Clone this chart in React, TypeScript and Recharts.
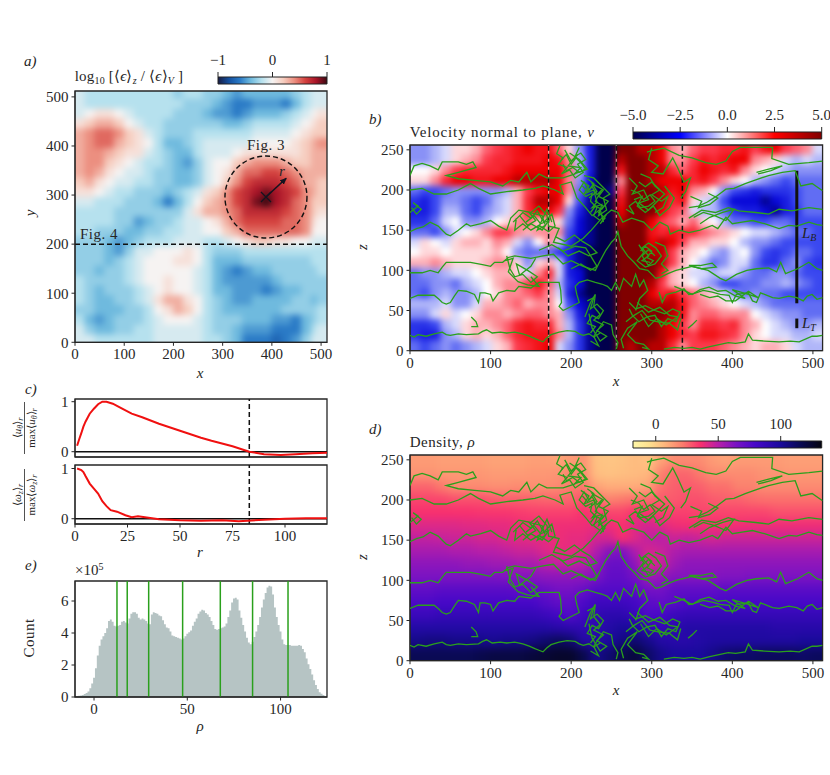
import React from 'react';
import {
  ComposedChart, ScatterChart, Scatter, Line, Area, XAxis, YAxis, ZAxis,
  ReferenceLine, ReferenceArea, ReferenceDot,
} from 'recharts';

const FONT = "'Liberation Serif', serif";
const INK = '#262626';
const GREEN = '#2aa01c';

// panel a) heat map, log10 ratio in tenths
const epsColumns = [10, 30, 50, 70, 90, 110, 130, 150, 170, 190, 210, 230, 250, 270, 290, 310, 330, 350, 370, 390, 410, 430, 450, 470, 490, 502];
const epsLevels = [502, 485, 465, 445, 425, 405, 385, 365, 345, 325, 305, 285, 265, 245, 225, 205, 185, 165, 145, 125, 105, 85, 65, 45, 25, 5];
const epsRows = [
  [-1, -2, -2, -2, -2, -2, -2, -2, -2, -2, -3, -2, -2, -3, -3, -4, -5, -4, -4, -4, -4, -4, -3, -2, -1, -1],
  [-1, -2, -2, -2, -2, -2, -2, -2, -2, -2, -2, -3, -3, -3, -4, -5, -6, -6, -5, -5, -5, -6, -4, -2, -1, -1],
  [-1, 0, 1, 1, 0, -1, -2, -2, -2, -2, -3, -3, -3, -4, -5, -5, -6, -5, -4, -4, -4, -3, -2, -1, 0, 1],
  [1, 2, 3, 3, 2, 0, -1, -2, -2, -3, -3, -3, -3, -3, -3, -4, -4, -3, -2, -2, -2, -2, -1, 0, 1, 2],
  [3, 4, 5, 5, 4, 2, 1, -1, -2, -3, -3, -3, -2, -2, -2, -2, -2, -2, -1, -1, -1, -1, 0, 1, 2, 2],
  [3, 4, 5, 5, 3, 2, 1, 0, -2, -4, -4, -3, -2, -1, -1, -1, -1, -1, 0, 0, 0, 0, 1, 2, 3, 4],
  [3, 4, 4, 3, 2, 1, 1, -1, -2, -3, -4, -4, -2, -1, -1, -1, 0, 1, 1, 1, 1, 1, 1, 2, 3, 3],
  [3, 4, 4, 2, 1, 0, -1, -2, -2, -3, -4, -5, -3, -1, 0, 0, 2, 3, 4, 4, 4, 3, 2, 2, 3, 3],
  [3, 4, 3, 1, 0, -1, -1, -2, -3, -3, -4, -4, -3, -1, 0, 1, 3, 5, 5, 6, 6, 5, 4, 3, 3, 3],
  [2, 3, 1, 0, -1, -1, -2, -2, -3, -3, -4, -4, -3, -1, 0, 2, 4, 6, 7, 7, 7, 6, 5, 3, 3, 2],
  [1, 1, 0, -1, -2, -2, -3, -3, -3, -4, -3, -2, -1, 1, 2, 4, 6, 7, 8, 9, 8, 7, 6, 4, 3, 2],
  [-1, -1, -2, -2, -2, -3, -3, -3, -4, -6, -4, -2, 0, 2, 3, 4, 6, 7, 9, 10, 8, 7, 5, 4, 2, 2],
  [-2, -2, -2, -2, -3, -3, -3, -3, -3, -3, -3, -1, 1, 3, 3, 4, 5, 7, 7, 7, 7, 6, 5, 4, 2, 1],
  [-2, -2, -2, -2, -3, -3, -5, -4, -3, -3, -2, -1, -1, 0, 1, 3, 5, 6, 6, 6, 6, 5, 5, 4, 1, 0],
  [-2, -2, -3, -3, -3, -4, -4, -3, -3, -2, -2, -1, -1, 0, 0, 2, 3, 5, 5, 5, 5, 5, 5, 4, 0, 0],
  [-3, -3, -3, -4, -5, -4, -3, -2, -2, -2, -1, -1, -1, -2, -2, -1, 0, 1, 2, 2, 1, 1, 0, 0, -1, -1],
  [-3, -3, -3, -4, -5, -3, -1, -1, 0, 0, 0, 1, 0, -2, -3, -3, -3, -2, -2, -2, -2, -2, -2, -2, -2, -2],
  [-3, -3, -3, -4, -3, -2, -1, 0, 0, 0, 1, 1, 0, -2, -4, -4, -4, -3, -3, -3, -3, -3, -3, -3, -2, -2],
  [-3, -3, -4, -3, -3, -2, -1, 0, 0, 0, 0, 0, -1, -2, -4, -5, -6, -5, -4, -4, -3, -3, -3, -3, -3, -2],
  [-2, -3, -3, -3, -3, -2, -1, 0, 0, 1, 0, 0, -1, -2, -4, -5, -5, -5, -5, -5, -4, -3, -3, -3, -3, -3],
  [-2, -3, -4, -3, -3, -3, -2, -1, 0, 1, 0, 0, -1, -2, -4, -4, -5, -5, -5, -6, -5, -4, -4, -3, -3, -3],
  [-2, -3, -4, -4, -3, -3, -2, -1, 1, 3, 3, 1, 0, -2, -3, -4, -5, -5, -4, -4, -4, -4, -3, -3, -4, -3],
  [-3, -3, -4, -4, -4, -3, -3, -2, 0, 1, 3, 2, 0, -2, -3, -4, -4, -4, -4, -4, -4, -3, -3, -3, -3, -2],
  [-2, -4, -5, -4, -3, -3, -3, -2, -1, 0, 0, 0, -1, -2, -3, -3, -3, -4, -4, -4, -5, -5, -6, -4, -3, -2],
  [-1, -3, -4, -4, -3, -3, -2, -2, -1, -1, -1, -1, -1, -2, -3, -3, -4, -5, -5, -5, -6, -6, -6, -4, -2, -1],
  [-1, -1, -2, -2, -2, -2, -2, -2, -1, -1, -1, -1, -1, -2, -2, -3, -4, -6, -6, -6, -7, -6, -5, -3, -1, -1],
];

// panel b) velocity in half units
const velColumns = [6, 19, 32, 45, 58, 70, 83, 96, 109, 122, 134, 147, 160, 173, 186, 198, 211, 224, 237, 250, 262, 275, 288, 301, 314, 326, 339, 352, 365, 378, 390, 403, 416, 429, 442, 454, 467, 480, 493, 506];
const velLevels = [250, 237, 224, 211, 198, 186, 173, 160, 147, 134, 122, 109, 96, 83, 70, 58, 45, 32, 19, 6];
const velRows = [
  [-3, -3, -2, -1, 1, 1, 2, 4, 5, 6, 7, 8, 7, 7, 4, 1, -3, -7, -10, -10, 10, 10, 9, 9, 8, 3, 2, 4, 5, 5, 6, 6, 7, 5, 7, 8, 5, 4, 3, -1],
  [-3, -3, -2, -1, 1, 2, 3, 5, 6, 6, 7, 7, 7, 8, 7, 3, -2, -7, -10, -10, 9, 10, 10, 9, 8, 3, 3, 5, 7, 6, 7, 8, 8, 3, 2, 1, -1, -2, -1, -2],
  [0, 0, 1, 3, 5, 6, 6, 6, 6, 7, 8, 8, 8, 8, 8, 4, -2, -7, -10, -10, 7, 10, 10, 9, 9, 6, 4, 6, 8, 7, 6, 7, 3, 1, 0, -1, -2, -3, -3, -3],
  [1, 1, 3, 6, 8, 8, 7, 7, 8, 8, 9, 9, 9, 9, 8, 3, -3, -8, -10, -10, 3, 10, 10, 9, 8, 8, 8, 6, 7, 5, 3, 1, 0, -2, -3, -4, -5, -4, -4, -4],
  [-4, -5, -5, -4, -3, -3, -3, -3, -3, -2, 2, 5, 7, 8, 8, 3, -4, -8, -10, -9, 5, 10, 10, 10, 9, 7, 8, 3, 2, 0, -3, -5, -6, -7, -6, -6, -6, -5, -4, -4],
  [-6, -7, -5, -3, -3, -4, -5, -4, -2, -1, 2, 6, 9, 9, 8, 1, -5, -9, -10, -10, 7, 10, 10, 10, 9, 6, 7, 1, -1, -2, -5, -8, -8, -8, -9, -8, -7, -5, -4, -4],
  [-7, -7, -5, -2, -2, -4, -5, -3, -2, -1, 2, 6, 8, 8, 5, -3, -7, -9, -10, -10, 8, 10, 10, 10, 8, 5, 4, -1, -2, -2, -4, -6, -7, -7, -8, -9, -7, -6, -4, -4],
  [-6, -6, -4, -1, 0, -3, -3, -2, 0, 1, 3, 4, 1, 2, 1, -4, -8, -9, -10, -10, 9, 10, 10, 8, 5, 4, 2, 4, 1, 0, -2, -4, -4, -5, -5, -4, -4, -5, -5, -5],
  [-4, -4, -5, -3, -1, 0, 1, 3, 5, 5, 3, 2, 3, 3, 3, -5, -8, -9, -10, -10, 10, 10, 10, 7, 6, 7, 6, 6, 4, 3, 2, 1, 0, -1, -1, -2, -3, -4, -4, -5],
  [-1, 1, 0, -1, 1, 2, 2, 1, 3, 2, -1, -3, 0, 3, -1, -6, -9, -9, -10, -10, 10, 10, 10, 8, 9, 8, 5, 2, 2, 1, 1, 0, -2, -3, -3, -4, -5, -5, -5, -5],
  [0, 1, 1, 0, 1, 1, 1, 1, 2, 0, -3, -4, -4, -4, -6, -7, -9, -10, -10, -10, 10, 10, 10, 9, 9, 5, 2, 1, 0, -2, -3, -1, 0, -3, -5, -6, -5, -4, -4, -5],
  [2, 2, 3, 2, 1, 1, 1, 2, 3, 3, 1, -3, 1, 2, -1, -7, -9, -10, -10, -10, 10, 10, 10, 10, 9, 5, 2, 0, -2, -4, -3, -1, -1, -4, -6, -6, -4, -3, -5, -6],
  [-4, -3, -3, -2, -1, -1, 0, 1, 2, 2, 1, -1, 3, 6, -1, -7, -8, -10, -10, -10, 10, 10, 10, 10, 7, 2, 1, -1, -1, -2, -1, -1, -3, -4, -4, -3, -3, -4, -5, -5],
  [-4, -4, -3, -3, -4, -2, -1, 0, 2, 3, 3, 5, 7, 4, -2, -6, -8, -10, -10, -10, 10, 10, 10, 9, 5, 2, 1, 0, -2, -3, -5, -5, -4, -4, -3, -3, -2, -3, -4, -5],
  [-4, -5, -3, -2, -3, -3, -2, 0, 1, 3, 3, 4, 5, 3, -1, -7, -9, -10, -10, -10, 10, 10, 10, 8, 6, 8, 5, 4, 2, 1, -1, -3, -4, -3, -4, -4, -5, -5, -5, -5],
  [-2, -2, -2, -1, -3, -3, -1, 2, 2, 3, 4, 2, 3, 3, 0, -5, -8, -9, -10, -10, 10, 10, 10, 9, 9, 9, 7, 4, 3, 2, 1, 0, -1, -2, -3, -4, -4, -4, -4, -4],
  [-3, -3, -1, 1, -1, 0, 1, 3, 3, 2, 3, 4, 4, 3, 2, -3, -7, -9, -10, -10, 10, 10, 10, 10, 10, 9, 7, 3, 4, 4, 3, 3, 3, 0, -1, -2, -3, -3, -4, -4],
  [-6, -6, -5, -2, -1, 1, 2, 2, 3, 4, 6, 7, 6, 6, 2, -2, -6, -9, -10, -10, 10, 10, 10, 10, 9, 8, 5, 3, 6, 6, 5, 6, 3, 2, 0, -1, -2, -3, -3, -2],
  [-6, -7, -7, -3, -2, 1, 2, 1, 2, 4, 6, 7, 7, 7, 3, -2, -6, -9, -10, -10, 10, 10, 10, 10, 9, 8, 6, 5, 7, 7, 6, 5, 3, 1, 0, -1, -1, -2, -2, -1],
  [-4, -5, -4, -3, -4, -3, -2, -1, 1, 2, 5, 6, 7, 8, -1, -3, -6, -9, -10, -10, 10, 9, 10, 9, 9, 6, 3, 5, 5, 5, 4, 3, 2, 1, 2, 2, 1, -1, -2, -2],
];

// panel d) density
const rhoColumns = [8, 24, 40, 56, 72, 88, 104, 120, 136, 152, 168, 184, 200, 216, 232, 248, 264, 280, 296, 312, 328, 344, 360, 376, 392, 408, 424, 440, 456, 472, 488, 504];
const rhoLevels = [248, 232, 216, 200, 184, 168, 152, 136, 120, 104, 88, 72, 56, 40, 24, 8];
const rhoRows = [
  [14, 14, 13, 13, 13, 13, 12, 12, 12, 13, 13, 12, 14, 16, 4, 3, 4, 6, 4, 12, 18, 18, 18, 14, 12, 14, 14, 14, 14, 13, 13, 13],
  [16, 16, 15, 15, 15, 15, 14, 14, 14, 15, 15, 16, 20, 18, 5, 4, 5, 6, 7, 20, 26, 26, 22, 18, 18, 18, 18, 16, 16, 15, 15, 15],
  [26, 26, 22, 18, 18, 18, 17, 17, 18, 17, 17, 18, 22, 22, 12, 10, 10, 10, 12, 24, 27, 28, 27, 24, 24, 20, 20, 18, 18, 18, 18, 18],
  [32, 32, 32, 30, 30, 30, 28, 27, 27, 27, 26, 26, 26, 30, 24, 20, 22, 24, 25, 28, 28, 30, 30, 28, 27, 27, 25, 24, 24, 24, 24, 24],
  [36, 36, 36, 36, 36, 35, 35, 35, 34, 33, 33, 33, 33, 36, 34, 32, 32, 36, 36, 34, 33, 33, 32, 32, 32, 32, 32, 32, 30, 30, 30, 30],
  [42, 42, 42, 42, 41, 41, 40, 40, 38, 38, 38, 38, 38, 38, 40, 38, 36, 42, 44, 42, 38, 37, 37, 37, 36, 37, 38, 38, 38, 38, 38, 38],
  [48, 48, 47, 46, 46, 44, 44, 42, 41, 40, 40, 38, 40, 40, 44, 44, 36, 42, 48, 50, 46, 48, 46, 44, 46, 46, 46, 46, 46, 46, 46, 46],
  [54, 54, 54, 52, 52, 50, 50, 48, 46, 46, 42, 40, 40, 42, 52, 62, 64, 52, 44, 46, 52, 54, 54, 54, 54, 54, 54, 54, 54, 54, 54, 54],
  [60, 60, 60, 60, 58, 58, 56, 56, 54, 54, 50, 48, 48, 50, 58, 70, 70, 60, 42, 46, 56, 60, 60, 60, 60, 60, 60, 60, 60, 60, 60, 60],
  [64, 64, 64, 64, 64, 64, 64, 63, 62, 62, 60, 60, 60, 60, 64, 72, 72, 66, 56, 58, 62, 62, 62, 62, 63, 63, 64, 64, 64, 64, 64, 64],
  [72, 72, 74, 74, 74, 74, 74, 74, 72, 72, 70, 66, 66, 70, 76, 76, 76, 74, 66, 66, 72, 72, 72, 72, 74, 74, 74, 74, 74, 74, 74, 74],
  [78, 78, 80, 80, 80, 80, 80, 80, 80, 80, 76, 72, 72, 78, 84, 84, 84, 82, 74, 72, 74, 78, 78, 78, 80, 80, 80, 80, 80, 80, 80, 80],
  [86, 86, 88, 88, 88, 88, 88, 88, 88, 88, 86, 82, 76, 84, 90, 92, 92, 86, 78, 80, 86, 88, 88, 88, 88, 88, 88, 88, 88, 88, 88, 88],
  [96, 96, 96, 96, 96, 96, 96, 96, 96, 96, 96, 94, 92, 90, 92, 96, 100, 100, 90, 88, 92, 96, 96, 96, 96, 96, 96, 96, 94, 94, 94, 94],
  [104, 106, 106, 104, 104, 104, 102, 104, 104, 106, 110, 114, 110, 96, 96, 100, 106, 110, 104, 96, 94, 94, 96, 98, 98, 98, 98, 98, 98, 98, 100, 100],
  [116, 116, 116, 116, 116, 118, 120, 120, 120, 122, 124, 126, 126, 118, 104, 110, 118, 122, 112, 104, 100, 100, 100, 104, 110, 112, 112, 114, 114, 114, 112, 114],
];

// green density contours, shared by panels b) and d), [x, z]
const contourPairs: number[][][] = [
  // level near z = 20
  [[0, 19], [5, 17], [10, 20], [20, 18], [30, 21], [40, 23], [45, 20], [50, 19], [60, 21], [70, 20], [85, 21], [90, 24], [95, 26], [102, 22], [112, 23], [120, 22], [130, 23], [140, 21], [148, 18], [155, 15], [160, 13], [165, 11], [170, 16], [175, 20], [185, 23], [195, 25], [205, 24], [210, 21], [215, 19], [222, 21], [228, 17], [236, 22]],
  [[315, 2], [328, 4], [340, 3], [350, 4], [360, 2], [372, 5], [385, 8], [395, 10], [404, 9], [416, 11], [420, 21], [425, 13], [440, 12], [458, 11], [472, 12], [483, 11], [499, 18], [505, 18], [512, 19]],
  // level near z = 70
  [[0, 65], [10, 69], [30, 69], [36, 64], [40, 60], [45, 58], [50, 60], [55, 68], [60, 75], [70, 74], [80, 70], [85, 60], [87, 72], [93, 72], [100, 70], [103, 62], [110, 72], [120, 75], [130, 74], [135, 80], [150, 78], [160, 85], [175, 85], [185, 85], [187, 75], [188, 60], [185, 55], [190, 50], [200, 55], [210, 60], [207, 70], [205, 80], [210, 85], [220, 88], [230, 85], [238, 83], [245, 80], [250, 75], [255, 85], [260, 75], [265, 90], [270, 85], [275, 80], [280, 95], [285, 80], [290, 88], [295, 75], [285, 65], [280, 50]],
  [[309, 73], [313, 60], [318, 70], [330, 73], [340, 77], [346, 70], [352, 71], [364, 75], [375, 73], [385, 70], [396, 69], [400, 60], [405, 70], [420, 72], [425, 62], [430, 60], [435, 72], [440, 70], [450, 66], [458, 65], [470, 68], [480, 66], [488, 62], [493, 68], [499, 70], [505, 64], [512, 66]],
  [[328, 80], [338, 76], [350, 70], [360, 76], [371, 79], [382, 74], [392, 75], [404, 68], [416, 65], [400, 76], [420, 70], [432, 66], [420, 74], [404, 62], [392, 62], [382, 68], [372, 66], [360, 70]],
  // level near z = 100
  [[0, 97], [15, 97], [25, 100], [35, 97], [40, 104], [45, 110], [60, 110], [75, 110], [90, 107], [100, 105], [105, 110], [115, 110], [122, 116], [130, 118], [150, 115], [165, 118], [178, 120], [190, 108], [200, 112], [215, 105], [230, 100], [236, 112], [243, 125], [250, 135], [255, 140], [258, 148], [262, 130], [270, 118], [278, 110], [285, 102], [295, 100], [305, 90], [312, 92], [320, 96], [330, 100], [350, 105], [370, 100], [385, 90], [392, 87], [405, 95], [418, 100], [430, 102], [445, 103], [455, 98], [460, 110], [466, 96], [481, 102], [495, 110], [505, 102], [512, 100]],
  [[346, 106], [360, 106], [375, 109], [380, 104], [362, 102], [346, 106]],
  // level near z = 150
  [[0, 148], [8, 152], [16, 154], [25, 160], [35, 155], [40, 150], [45, 145], [50, 143], [60, 150], [70, 158], [75, 155], [88, 158], [100, 162], [110, 155], [120, 150], [125, 165], [135, 175], [150, 172], [160, 180], [170, 168], [172, 155], [185, 152], [178, 135], [200, 130], [215, 140], [225, 150], [238, 165], [250, 175], [258, 172], [264, 160], [275, 165], [290, 160], [300, 150], [310, 160], [320, 155], [323, 145], [334, 150], [346, 147], [360, 150], [375, 156], [382, 152], [392, 166], [400, 158], [412, 160], [425, 162], [440, 158], [458, 152], [470, 156], [480, 155], [495, 160], [505, 157], [512, 156]],
  // level near z = 200
  [[0, 200], [15, 202], [30, 195], [45, 195], [60, 200], [75, 208], [85, 202], [100, 195], [120, 198], [140, 200], [155, 202], [165, 205], [180, 200], [190, 195], [186, 206], [200, 210], [207, 190], [218, 178], [226, 168], [236, 176], [240, 160]],
  [[346, 178], [358, 180], [369, 185], [380, 192], [392, 201], [402, 202], [416, 208], [430, 213], [445, 218], [462, 222], [478, 224], [485, 205], [499, 208], [512, 199]],
  [[346, 165], [362, 175], [379, 172], [395, 178], [408, 174], [429, 172], [445, 170], [458, 176], [474, 174], [495, 178], [512, 176]],
  // level near z = 225
  [[0, 218], [5, 230], [15, 233], [25, 230], [35, 225], [40, 235], [60, 235], [70, 232], [78, 235], [82, 228], [60, 222], [45, 218], [60, 214], [80, 212], [100, 210], [115, 205], [125, 212], [135, 210], [145, 222], [150, 210], [160, 220], [170, 215], [190, 215], [205, 220]],
  [[294, 247], [300, 249], [315, 252], [334, 243], [350, 240], [367, 234], [380, 232], [392, 236], [400, 248], [410, 253], [429, 253], [450, 253], [449, 239], [470, 232], [495, 234], [512, 236]],
  // tangled contours around the central column
  [[186, 255], [182, 245], [190, 240], [184, 232], [195, 228], [188, 220], [198, 225], [205, 215], [215, 222], [208, 232], [218, 238], [212, 246], [205, 242], [210, 253]],
  [[192, 250], [200, 236], [208, 244], [196, 230], [212, 228], [204, 220], [220, 226], [210, 238], [198, 246]],
  [[188, 238], [194, 244], [200, 232], [206, 240], [212, 234], [218, 226], [210, 222], [202, 228], [194, 224], [190, 232]],
  [[212, 212], [222, 205], [216, 195], [228, 200], [232, 185], [226, 178], [238, 182], [234, 168], [244, 175], [240, 190], [248, 195], [238, 205], [228, 215], [216, 218]],
  [[222, 190], [232, 198], [226, 208], [240, 200], [234, 192], [246, 186], [238, 176], [230, 180], [224, 172]],
  [[214, 205], [220, 198], [226, 204], [232, 194], [238, 200], [230, 186], [240, 180], [234, 172], [242, 165], [236, 158], [244, 170]],
  [[220, 214], [228, 208], [222, 200], [216, 210], [210, 200], [218, 192], [226, 196], [224, 186], [232, 178], [228, 168], [236, 162]],
  [[272, 215], [282, 205], [276, 195], [290, 200], [296, 188], [284, 184], [296, 175], [306, 185], [316, 195], [304, 205], [298, 215], [286, 220]],
  [[278, 188], [288, 192], [282, 180], [292, 172], [302, 180], [310, 168], [322, 178], [328, 190], [316, 205]],
  [[274, 200], [284, 196], [290, 188], [298, 194], [304, 186], [296, 180], [286, 178], [280, 186], [272, 180], [278, 170], [268, 176]],
  [[284, 210], [292, 204], [300, 210], [310, 200], [300, 194], [312, 186], [320, 192], [314, 178], [304, 172]],
  [[300, 252], [296, 238], [308, 230], [300, 222], [314, 220], [326, 240], [332, 228], [340, 210], [348, 215], [342, 198], [336, 190]],
  [[284, 132], [290, 122], [282, 112], [292, 104], [304, 108], [312, 118], [305, 128], [296, 134], [288, 128], [296, 118], [288, 112], [298, 110]],
  [[286, 124], [292, 130], [300, 124], [294, 116], [302, 112], [296, 106], [288, 118], [296, 126], [304, 118]],
  [[304, 135], [316, 130], [320, 118], [312, 108], [320, 100], [312, 96]],
  [[128, 160], [140, 172], [150, 165], [158, 174], [166, 160], [176, 170], [180, 155], [172, 148], [160, 156], [150, 150], [140, 158], [130, 150], [132, 165]],
  [[144, 160], [154, 168], [162, 158], [172, 162], [164, 150], [150, 158], [140, 150]],
  [[136, 168], [146, 156], [156, 162], [148, 172], [164, 168], [168, 156], [158, 150], [170, 176], [176, 160]],
  [[120, 118], [124, 102], [130, 92], [140, 95], [150, 85], [158, 92], [146, 100], [132, 108], [136, 94], [150, 105], [156, 115]],
  [[118, 112], [128, 115], [122, 98], [134, 86], [146, 82], [160, 80], [150, 92]],
  [[160, 125], [176, 132], [190, 124], [205, 130], [218, 128], [226, 115], [232, 105], [224, 100], [212, 108], [200, 102]],
  [[180, 142], [192, 136], [204, 144], [214, 136], [224, 130], [232, 122], [222, 118], [210, 124], [196, 118], [184, 128]],
  [[217, 42], [224, 60], [230, 70], [228, 55], [236, 45], [228, 38], [240, 32], [232, 25], [244, 18], [236, 12], [226, 28], [222, 46]],
  [[224, 12], [234, 6], [228, 18], [240, 36], [250, 32], [252, 20], [258, 10], [256, 2]],
  [[220, 62], [228, 66], [224, 52], [232, 58], [240, 50], [234, 40], [226, 44], [220, 34], [230, 30], [224, 22]],
  [[265, 3], [262, 14], [270, 28], [282, 36], [270, 20], [280, 10], [290, 8], [296, 2], [288, 4]],
  [[272, 60], [280, 52], [292, 56], [304, 50], [316, 46], [326, 52], [335, 48], [330, 36], [320, 40], [312, 30], [304, 44], [294, 42], [284, 36], [276, 44], [272, 52]],
  [[268, 36], [278, 44], [288, 50], [298, 38], [308, 36], [322, 34], [332, 26], [336, 40]],
  [[282, 60], [296, 48], [310, 54], [322, 44], [332, 42], [318, 32], [306, 40], [296, 30], [286, 46]],
  [[345, 28], [352, 34], [356, 38], [350, 32], [345, 28]],
  [[76, 42], [82, 36], [84, 30], [76, 30]],
  [[430, 222], [445, 226], [462, 230], [448, 224], [432, 220]],
  [[360, 158], [372, 166], [388, 172], [402, 176], [392, 162], [378, 168], [364, 172], [352, 166]],
  [[348, 192], [362, 186], [358, 178], [372, 182], [382, 190], [370, 196]],
  [[0, 172], [10, 180], [4, 184], [14, 176], [8, 170], [2, 178]],
];

// panel c) normalised radial profiles
const uThetaProfile = [[1, 0.12], [2, 0.25], [3, 0.37], [4, 0.5], [5, 0.6], [6, 0.68], [7, 0.76], [9, 0.86], [11, 0.95], [13, 1], [15, 1], [18, 0.96], [22, 0.87], [27, 0.76], [32, 0.69], [40, 0.56], [50, 0.42], [60, 0.28], [65, 0.22], [75, 0.11], [83, 0], [90, -0.05], [98, -0.065], [105, -0.05], [113, -0.03], [120, -0.02]];
const omegaProfile = [[1, 1], [3, 0.97], [4, 0.93], [5, 0.85], [7, 0.7], [9, 0.6], [11, 0.5], [13, 0.35], [15, 0.25], [17, 0.17], [20, 0.14], [24, 0.07], [27, 0.03], [30, 0.05], [35, 0.02], [40, -0.01], [50, -0.03], [60, -0.04], [70, -0.03], [78, -0.05], [90, -0.02], [100, 0], [110, 0.01], [120, 0.01]];

// panel e) density histogram, counts in units of 1e5
const rhoBins = [-10, -9, -8, -7, -6, -5, -4, -3, -2, -1, 0, 1, 2, 3, 4, 5, 6, 7, 8, 9, 10, 11, 12, 13, 14, 15, 16, 17, 18, 19, 20, 21, 22, 23, 24, 25, 26, 27, 28, 29, 30, 31, 32, 33, 34, 35, 36, 37, 38, 39, 40, 41, 42, 43, 44, 45, 46, 47, 48, 49, 50, 51, 52, 53, 54, 55, 56, 57, 58, 59, 60, 61, 62, 63, 64, 65, 66, 67, 68, 69, 70, 71, 72, 73, 74, 75, 76, 77, 78, 79, 80, 81, 82, 83, 84, 85, 86, 87, 88, 89, 90, 91, 92, 93, 94, 95, 96, 97, 98, 99, 100, 101, 102, 103, 104, 105, 106, 107, 108, 109, 110, 111, 112, 113, 114, 115, 116, 117, 118, 119, 120, 121, 122, 123, 124];
const rhoCounts = [0.05, 0.07, 0.08, 0.1, 0.13, 0.18, 0.25, 0.35, 0.55, 0.85, 1.2, 1.8, 2.6, 3.2, 3.6, 3.8, 4.0, 4.3, 4.75, 4.85, 4.7, 4.45, 4.4, 4.45, 4.5, 4.7, 4.75, 4.65, 4.6, 4.9, 5.2, 5.3, 5.3, 5.2, 4.95, 4.85, 4.9, 4.85, 4.75, 4.6, 4.55, 5.15, 5.3, 5.25, 5.2, 5.1, 5.05, 4.8, 4.55, 4.35, 4.3, 4.1, 3.85, 3.8, 3.75, 3.7, 3.65, 3.6, 3.65, 3.8, 3.95, 4.05, 4.15, 4.45, 4.7, 4.9, 5.2, 5.35, 5.45, 5.4, 5.25, 5.15, 5, 4.75, 4.5, 4.25, 4.2, 4.25, 4.3, 4.35, 4.4, 4.6, 5, 5.4, 5.9, 6.15, 6.2, 6.1, 5.4, 4.95, 4.5, 4.1, 3.7, 3.4, 3.3, 3.45, 3.75, 4.1, 4.5, 5, 5.6, 6.1, 6.5, 6.85, 6.95, 6.9, 6.4, 5.6, 5.0, 4.5, 4.1, 3.6, 3.3, 3.25, 3.25, 3.25, 3.2, 3.2, 3.2, 3.2, 3.25, 3.2, 3.0, 2.8, 2.4, 2.05, 1.75, 1.4, 1.05, 0.75, 0.5, 0.3, 0.2, 0.12, 0.05];
const isoDensities = [12.3, 17.8, 29.3, 47.5, 67.7, 85, 104];

const fieldTicks = [0, 100, 200, 300, 400, 500];
const heightTicks = [0, 50, 100, 150, 200, 250];
const radiusTicks = [0, 25, 50, 75, 100];

// colour maps: [value, hex]
const balanceStops: [number, string][] = [[-10, '#181c43'], [-8, '#14509f'], [-6, '#2a7ac6'], [-4, '#6fbade'], [-2, '#b6e1ee'], [0, '#f6f3f2'], [2, '#f6cdbf'], [4, '#ec8f80'], [6, '#d4423f'], [8, '#a81428'], [10, '#3c0912']];
const seismicStops: [number, string][] = [[-10, '#00004c'], [-5, '#0000ff'], [0, '#ffffff'], [5, '#ff0000'], [10, '#800000']];
// cell averages mix in the fine white filaments of the field, so they sit paler than the bar
const velCellStops: [number, string][] = [[-10, '#00004c'], [-8, '#0808d8'], [-5, '#3a48f0'], [0, '#ffffff'], [5, '#fc3a4c'], [8, '#ee0000'], [10, '#800000']];
const densityStops: [number, string][] = [[-18, '#fff7a8'], [-5, '#fee08f'], [8, '#feb47c'], [22, '#fb7a6c'], [36, '#f8306e'], [50, '#b81fa8'], [65, '#7712c4'], [80, '#4708c8'], [100, '#1a0a9c'], [115, '#0a0a58'], [133, '#050510']];

const hexRgb = (h: string) => [1, 3, 5].map((i) => parseInt(h.slice(i, i + 2), 16));
const colorAt = (stops: [number, string][], v: number) => {
  for (let i = 1; i < stops.length; i++) {
    if (v <= stops[i][0]) {
      const [a, ca] = stops[i - 1];
      const [b, cb] = stops[i];
      const t = Math.max(0, (v - a) / (b - a));
      const A = hexRgb(ca);
      const B = hexRgb(cb);
      return `rgb(${A.map((c, k) => Math.round(c + (B[k] - c) * t)).join(',')})`;
    }
  }
  return stops[stops.length - 1][1];
};

const toPoints = (pairs: number[][]) => pairs.map(([x, y]) => ({ x, y }));
const contours = contourPairs.map(toPoints);

const tickStyle = { fontFamily: FONT, fontSize: 15, fill: INK };
const tickLine = { stroke: INK, strokeWidth: 1 };
const axisLine = { stroke: INK, strokeWidth: 1 };
const minus = (v: number | string) => String(v).replace('-', '\u2212');

const HeatLayer = ({ left, top, width, height, xDomain, yDomain, columns, levels, rows, stops, blur }: any) => {
  const pad = 14;
  const cellW = width / columns.length + 1;
  const cellH = height / levels.length + 1;
  const table = rows.flatMap((row: number[], j: number) =>
    row.map((v, i) => ({
      x: columns[i], y: levels[j], v,
      l: i === 0, r: i === columns.length - 1, t: j === 0, b: j === levels.length - 1,
    })),
  );
  const cell = (p: any) => {
    const d = p.payload;
    const x0 = p.cx - cellW / 2 - (d.l ? pad : 0);
    const y0 = p.cy - cellH / 2 - (d.t ? pad : 0);
    const x1 = p.cx + cellW / 2 + (d.r ? pad : 0);
    const y1 = p.cy + cellH / 2 + (d.b ? pad : 0);
    return <rect x={x0} y={y0} width={x1 - x0} height={y1 - y0} fill={colorAt(stops, d.v)} />;
  };
  return (
    <div style={{ position: 'absolute', left, top, width, height, overflow: 'hidden' }}>
      <div style={{ position: 'absolute', left: -pad, top: -pad, filter: `blur(${blur}px)` }}>
        <ScatterChart width={width + 2 * pad} height={height + 2 * pad} margin={{ left: pad, right: pad, top: pad, bottom: pad }}>
          <XAxis type="number" dataKey="x" domain={xDomain} hide />
          <YAxis type="number" dataKey="y" domain={yDomain} hide />
          <ZAxis range={[1, 1]} />
          <Scatter data={table} shape={cell} isAnimationActive={false} />
        </ScatterChart>
      </div>
    </div>
  );
};

const M = { left: 50, top: 8, right: 24, bottom: 30 };

const Frame = ({ left, top, width, height, children, xDomain, yDomain, xTicks, yTicks, showX = true, yFormat, data }: any) => (
  <div style={{ position: 'absolute', left: left - M.left, top: top - M.top }}>
    <ComposedChart data={data} width={width + M.left + M.right} height={height + M.top + M.bottom} margin={{ left: 0, top: M.top, right: M.right, bottom: 0 }}>
      <XAxis type="number" dataKey="x" domain={xDomain} ticks={xTicks} interval={0} height={M.bottom} tick={showX ? tickStyle : false} tickLine={showX ? tickLine : false} axisLine={axisLine} tickSize={3.5} tickMargin={3} allowDataOverflow />
      <YAxis type="number" dataKey="y" domain={yDomain} ticks={yTicks} interval={0} width={M.left} tick={tickStyle} tickLine={tickLine} axisLine={axisLine} tickSize={3.5} tickMargin={3} tickFormatter={yFormat} allowDataOverflow />
      {children}
      <ReferenceArea x1={xDomain[0]} x2={xDomain[1]} y1={yDomain[0]} y2={yDomain[1]} fill="none" fillOpacity={0} stroke={INK} strokeWidth={1.3} ifOverflow="visible" />
    </ComposedChart>
  </div>
);

const ColorBar = ({ left, top, width, domain, ticks, gradient, format }: any) => (
  <div style={{ position: 'absolute', left: left - 20, top: top - 34 }}>
    <ComposedChart width={width + 40} height={34 + 8} margin={{ left: 20, right: 20, top: 0, bottom: 1 }}>
      <XAxis type="number" orientation="top" dataKey="x" domain={domain} ticks={ticks} interval={0} height={34} tick={tickStyle} tickLine={tickLine} axisLine={false} tickSize={5} tickMargin={7} tickFormatter={format} />
      <YAxis type="number" dataKey="y" domain={[0, 1]} hide />
      <Scatter data={ticks.map((x: number) => ({ x, y: 0 }))} shape={() => null} isAnimationActive={false} />
      <ReferenceArea x1={domain[0]} x2={domain[1]} y1={0} y2={1} fill={`url(#${gradient})`} fillOpacity={1} stroke="#222" strokeWidth={1} ifOverflow="visible" />
    </ComposedChart>
  </div>
);

const Gradient = ({ id, stops }: any) => {
  const lo = stops[0][0];
  const hi = stops[stops.length - 1][0];
  return (
    <linearGradient id={id} x1="0" x2="1" y1="0" y2="0">
      {stops.map(([v, c]: [number, string]) => (
        <stop key={v} offset={(v - lo) / (hi - lo)} stopColor={c} />
      ))}
    </linearGradient>
  );
};

const contourSeries = contours.map((c, i) => (
  <Scatter key={i} data={c} line={{ stroke: GREEN, strokeWidth: 1.3 }} shape={() => null} isAnimationActive={false} />
));

const Italic = ({ children }: any) => <tspan fontStyle="italic">{children}</tspan>;

const Labels = () => {
  const t = { fontFamily: FONT, fontSize: 15, fill: INK };
  const small = { fontFamily: FONT, fontSize: 11, fill: INK };
  const sub = { fontSize: 10, dy: 3 };
  return (
    <svg width={830} height={775} style={{ position: 'absolute', left: 0, top: 0, pointerEvents: 'none' }}>
      <text x={24} y={66} {...t} fontStyle="italic">a)</text>
      <text x={74.7} y={81} {...t} letterSpacing={0.2}>
        log<tspan {...sub}>10</tspan><tspan dy={-3}> [⟨</tspan><Italic>ϵ</Italic>⟩<tspan {...sub} fontStyle="italic">z</tspan><tspan dy={-3}> / ⟨</tspan><Italic>ϵ</Italic>⟩<tspan {...sub} fontStyle="italic">V</tspan><tspan dy={-3}> ]</tspan>
      </text>
      <text x={247} y={150} {...t} letterSpacing={0.5}>Fig. 3</text>
      <text x={80} y={239} {...t} letterSpacing={0.5}>Fig. 4</text>
      <text x={279} y={176} {...t} fontStyle="italic">r</text>
      <text x={200} y={378} {...t} fontStyle="italic" textAnchor="middle">x</text>
      <text transform="translate(35,213) rotate(-90)" {...t} fontStyle="italic" textAnchor="middle">y</text>

      <text x={25} y={394} {...t} fontStyle="italic">c)</text>
      <g transform="translate(21,428) rotate(-90)" textAnchor="middle">
        <text y={0} {...small}>⟨<Italic>u</Italic><tspan fontSize={8} dy={2} fontStyle="italic">θ</tspan><tspan dy={-2}>⟩</tspan><tspan fontSize={8} dy={2} fontStyle="italic">r</tspan></text>
        <line x1={-26} x2={26} y1={3.5} y2={3.5} stroke={INK} strokeWidth={0.8} />
        <text y={14} {...small}>max⟨<Italic>u</Italic><tspan fontSize={8} dy={2} fontStyle="italic">θ</tspan><tspan dy={-2}>⟩</tspan><tspan fontSize={8} dy={2} fontStyle="italic">r</tspan></text>
      </g>
      <g transform="translate(21,495) rotate(-90)" textAnchor="middle">
        <text y={0} {...small}>⟨<Italic>ω</Italic><tspan fontSize={8} dy={2} fontStyle="italic">z</tspan><tspan dy={-2}>⟩</tspan><tspan fontSize={8} dy={2} fontStyle="italic">r</tspan></text>
        <line x1={-26} x2={26} y1={3.5} y2={3.5} stroke={INK} strokeWidth={0.8} />
        <text y={14} {...small}>max⟨<Italic>ω</Italic><tspan fontSize={8} dy={2} fontStyle="italic">z</tspan><tspan dy={-2}>⟩</tspan><tspan fontSize={8} dy={2} fontStyle="italic">r</tspan></text>
      </g>
      <text x={200} y={557} {...t} fontStyle="italic" textAnchor="middle">r</text>

      <text x={25} y={570} {...t} fontStyle="italic">e)</text>
      <text x={75} y={575} {...t}>×10<tspan fontSize={10} dy={-5}>5</tspan></text>
      <text transform="translate(34,638) rotate(-90)" {...t} letterSpacing={0.5} textAnchor="middle">Count</text>
      <text x={200} y={731} {...t} fontStyle="italic" textAnchor="middle">ρ</text>

      <text x={369} y={124} {...t} fontStyle="italic">b)</text>
      <text x={409.7} y={137} {...t} letterSpacing={0.85}>Velocity normal to plane, <Italic>v</Italic></text>
      <text x={616} y={386} {...t} fontStyle="italic" textAnchor="middle">x</text>
      <text transform="translate(367,247) rotate(-90)" {...t} fontStyle="italic" textAnchor="middle">z</text>
      <text x={802} y={238} {...t} fill="#222" fontStyle="italic">L<tspan {...sub}>B</tspan></text>
      <text x={802} y={328} {...t} fill="#222" fontStyle="italic">L<tspan {...sub}>T</tspan></text>

      <text x={369} y={434} {...t} fontStyle="italic">d)</text>
      <text x={409.7} y={447} {...t} letterSpacing={0.5}>Density, <Italic>ρ</Italic></text>
      <text x={616} y={695} {...t} fontStyle="italic" textAnchor="middle">x</text>
      <text transform="translate(367,557) rotate(-90)" {...t} fontStyle="italic" textAnchor="middle">z</text>
    </svg>
  );
};

const PANEL_A = { left: 74.7, top: 91, width: 252, height: 251.3 };
const PANEL_B = { left: 409.7, top: 145, width: 412.6, height: 205.7 };
const PANEL_D = { left: 409.7, top: 455, width: 412.6, height: 205.7 };
const square: [number, number] = [0, 512];
const tall: [number, number] = [0, 256];

const histTable = rhoBins.map((x, i) => ({ x, count: rhoCounts[i] }));
const centre = [{ x: 388, y: 296 }];

export default function App() {
  return (
    <div style={{ position: 'absolute', left: 0, top: 0, width: 830, height: 775, overflow: 'hidden', background: '#fff' }}>
      <svg width={0} height={0} style={{ position: 'absolute' }}>
        <defs>
          <Gradient id="gradEps" stops={balanceStops} />
          <Gradient id="gradVel" stops={seismicStops} />
          <Gradient id="gradRho" stops={densityStops} />
          <marker id="arrowHead" markerWidth="8" markerHeight="8" refX="6" refY="3" orient="auto" markerUnits="userSpaceOnUse">
            <path d="M0,0 L7,3 L0,6 Z" fill="#14141f" />
          </marker>
        </defs>
      </svg>

      {/* a) */}
      <HeatLayer {...PANEL_A} xDomain={square} yDomain={square} columns={epsColumns} levels={epsLevels} rows={epsRows} stops={balanceStops} blur={3} />
      <Frame {...PANEL_A} xDomain={square} yDomain={square} xTicks={fieldTicks} yTicks={fieldTicks}>
        <ReferenceLine y={200} stroke="#111" strokeWidth={1.5} strokeDasharray="5 3" />
        <ReferenceDot x={388} y={296} r={41} fill="none" stroke="#111" strokeWidth={1.4} strokeDasharray="5 3" ifOverflow="visible" />
        <ReferenceLine segment={[{ x: 388, y: 296 }, { x: 429, y: 334 }]} stroke="#14141f" strokeWidth={1.4} markerEnd="url(#arrowHead)" />
        <Scatter
          data={centre}
          isAnimationActive={false}
          shape={(p: any) => (
            <path d={`M${p.cx - 5},${p.cy - 5} L${p.cx + 5},${p.cy + 5} M${p.cx - 5},${p.cy + 5} L${p.cx + 5},${p.cy - 5}`} stroke="#14141f" strokeWidth={1.3} />
          )}
        />
      </Frame>
      <ColorBar left={217.7} top={77} width={109} domain={[-1, 1]} ticks={[-1, 0, 1]} gradient="gradEps" format={minus} />

      {/* b) */}
      <HeatLayer {...PANEL_B} xDomain={square} yDomain={tall} columns={velColumns} levels={velLevels} rows={velRows} stops={velCellStops} blur={3.2} />
      <Frame {...PANEL_B} xDomain={square} yDomain={tall} xTicks={fieldTicks} yTicks={heightTicks}>
        {contourSeries}
        <ReferenceLine x={172} stroke="#fff" strokeWidth={1.2} strokeOpacity={0.6} />
        <ReferenceLine x={256} stroke="#fff" strokeWidth={1.2} strokeOpacity={0.6} />
        {[172, 256, 338].map((x) => (
          <ReferenceLine key={x} x={x} stroke="#111" strokeWidth={1.5} strokeDasharray="5 3" />
        ))}
        <ReferenceLine segment={[{ x: 480, y: 59 }, { x: 480, y: 224 }]} stroke="#111" strokeWidth={3} />
        <ReferenceLine segment={[{ x: 480, y: 28 }, { x: 480, y: 40 }]} stroke="#111" strokeWidth={3} />
      </Frame>
      <ColorBar left={633.3} top={131.5} width={188.7} domain={[-5, 5]} ticks={[-5, -2.5, 0, 2.5, 5]} gradient="gradVel" format={(v: number) => minus(v.toFixed(1))} />

      {/* c) */}
      <Frame left={74.7} top={399} width={252} height={58} xDomain={[0, 120]} yDomain={[-0.106, 1.054]} xTicks={radiusTicks} yTicks={[0, 1]} showX={false}>
        <ReferenceLine y={0} stroke="#111" strokeWidth={1.5} />
        <ReferenceLine x={83} stroke="#111" strokeWidth={1.5} strokeDasharray="5 3" />
        <Line data={toPoints(uThetaProfile)} dataKey="y" stroke="#f01010" strokeWidth={2} dot={false} isAnimationActive={false} />
      </Frame>
      <Frame left={74.7} top={464.5} width={252} height={59} xDomain={[0, 120]} yDomain={[-0.105, 1.07]} xTicks={radiusTicks} yTicks={[0, 1]}>
        <ReferenceLine y={0} stroke="#111" strokeWidth={1.5} />
        <ReferenceLine x={83} stroke="#111" strokeWidth={1.5} strokeDasharray="5 3" />
        <Line data={toPoints(omegaProfile)} dataKey="y" stroke="#f01010" strokeWidth={2} dot={false} isAnimationActive={false} />
      </Frame>

      {/* e) */}
      <Frame data={histTable} left={74.7} top={581} width={252} height={116} xDomain={[-10.2, 124.9]} yDomain={[0, 7.25]} xTicks={[0, 50, 100]} yTicks={[0, 2, 4, 6]}>
        <Area type="step" dataKey="count" fill="#b6c4c4" fillOpacity={1} stroke="none" isAnimationActive={false} />
        {isoDensities.map((x) => (
          <ReferenceLine key={x} x={x} stroke={GREEN} strokeWidth={1.5} />
        ))}
      </Frame>

      {/* d) */}
      <HeatLayer {...PANEL_D} xDomain={square} yDomain={tall} columns={rhoColumns} levels={rhoLevels} rows={rhoRows} stops={densityStops} blur={5} />
      <Frame {...PANEL_D} xDomain={square} yDomain={tall} xTicks={fieldTicks} yTicks={heightTicks}>
        {contourSeries}
      </Frame>
      <ColorBar left={633.3} top={441} width={188.7} domain={[-18.2, 132.8]} ticks={[0, 50, 100]} gradient="gradRho" />

      <Labels />
    </div>
  );
}
